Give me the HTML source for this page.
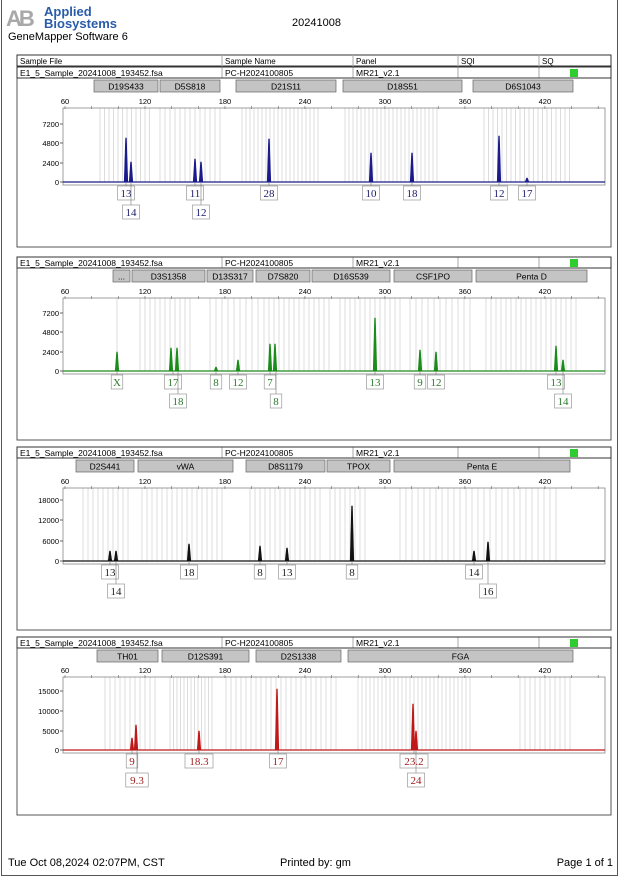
<!DOCTYPE html>
<html><head><meta charset="utf-8"><style>
body{margin:0;background:#fff;}
#pg{position:relative;width:620px;height:877px;overflow:hidden;font-family:"Liberation Sans",sans-serif;}
.t{position:absolute;white-space:nowrap;color:#000;}
</style></head><body><div id="pg">
<div style="position:absolute;left:1px;top:-2px;width:617px;height:878px;border:1px solid #555;box-sizing:border-box;border-top:none"></div>
<div class="t" style="left:6px;top:6px;font-size:22px;font-weight:bold;color:#a8a8a8;letter-spacing:-3px;">AB</div>
<div class="t" style="left:44px;top:6px;font-size:13px;font-weight:bold;color:#2a5caa;line-height:12px">Applied<br>Biosystems</div>
<div class="t" style="left:8px;top:31px;font-size:11px;">GeneMapper Software 6</div>
<div class="t" style="left:292px;top:17px;font-size:11px;">20241008</div>
<div class="t" style="left:8px;top:857px;font-size:11px;">Tue Oct 08,2024 02:07PM, CST</div>
<div class="t" style="left:280px;top:857px;font-size:11px;">Printed by: gm</div>
<div class="t" style="right:7px;top:857px;font-size:11px;">Page 1 of 1</div>
<svg id="s" width="620" height="877" style="position:absolute;left:0;top:0" font-family="Liberation Sans, sans-serif"></svg>
</div>
<script>
const s=document.getElementById('s');let h='';
const X=bp=>65+(bp-60)*1.333;
const panels=[
{top:55,hdr:true,bot:247,bins:[["D19S433",94,158],["D5S818",160,220],["D21S11",236,336],["D18S51",343,462],["D6S1043",473,573]],
 ax:101,pt:108,base:182,ticks:[["7200",124],["4800",143],["2400",163],["0",182]],col:"#1a1a8c",lab:"#1a1a6c",
 peaks:[[126,138],[131,162],[195,159],[201,162],[269,139],[371,153],[412,153],[499,136],[527,178]],
 labels:[["13",126,0],["14",131,1],["11",195,0],["12",201,1],["28",269,0],["10",371,0],["18",412,0],["12",499,0],["17",527,0]],
 lines:[[100,152,4.5],[160,220,5],[242,318,4],[345,440,4],[484,572,4.5]]},
{top:257,hdr:false,bot:440,bins:[["...",113,130],["D3S1358",132,205],["D13S317",207,253],["D7S820",256,310],["D16S539",312,390],["CSF1PO",394,472],["Penta D",476,587]],
 ax:291,pt:298,base:371,ticks:[["7200",313],["4800",332],["2400",352],["0",371]],col:"#1a8c1a",lab:"#2a7a2a",
 peaks:[[117,352],[171,348],[177,348],[216,367],[238,360],[270,344],[275,344],[375,318],[420,350],[436,352],[556,346],[563,360]],
 labels:[["X",117,0],["17",173,0],["18",178,1],["8",216,0],["12",238,0],["7",270,0],["8",276,1],["13",375,0],["9",420,0],["12",436,0],["13",556,0],["14",563,1]],
 lines:[[117,117,1],[140,190,5],[210,258,6],[264,330,5],[340,400,5],[410,470,6],[486,578,5]]},
{top:447,hdr:false,bot:630,bins:[["D2S441",76,134],["vWA",138,233],["D8S1179",246,325],["TPOX",327,390],["Penta E",394,570]],
 ax:481,pt:488,base:561,ticks:[["18000",500],["12000",520],["6000",541],["0",561]],col:"#111",lab:"#222",
 peaks:[[110,551],[116,551],[189,544],[260,546],[287,548],[352,506],[474,551],[488,542]],
 labels:[["13",110,0],["14",116,1],["18",189,0],["8",260,0],["13",287,0],["8",352,0],["14",474,0],["16",488,1]],
 lines:[[83,128,5],[142,225,5],[250,320,5],[330,368,5],[400,558,6]]},
{top:637,hdr:false,bot:815,bins:[["TH01",97,158],["D12S391",162,249],["D2S1338",256,341],["FGA",348,573]],
 ax:670,pt:677,base:750,ticks:[["15000",691],["10000",711],["5000",731],["0",750]],col:"#c01818",lab:"#a02020",
 peaks:[[132,738],[136,725],[199,731],[277,689],[413,704],[416,731]],
 labels:[["9",132,0],["9.3",137,1],["18.3",199,0],["17",278,0],["23.2",414,0],["24",416,1]],
 lines:[[105,158,5],[170,215,3.5],[226,340,5],[358,470,4],[520,570,5]]}];
for(const p of panels){
 let y0=p.top;
 h+=`<rect x="17" y="${y0}" width="594" height="${p.bot-y0}" fill="none" stroke="#555" stroke-width="1"/>`;
 if(p.hdr){
  h+=`<rect x="17" y="${y0}" width="594" height="11" fill="none" stroke="#333"/>`;
  [["Sample File",20],["Sample Name",225],["Panel",356],["SQI",461],["SQ",542]].forEach(a=>h+=`<text x="${a[1]}" y="${y0+9}" font-size="8">${a[0]}</text>`);
  [222,353,458,539].forEach(x=>h+=`<line x1="${x}" y1="${y0}" x2="${x}" y2="${y0+23}" stroke="#aaa"/>`);
  y0+=12;
 } else [222,353,458,539].forEach(x=>h+=`<line x1="${x}" y1="${y0}" x2="${x}" y2="${y0+11}" stroke="#aaa"/>`);
 h+=`<rect x="17" y="${y0}" width="594" height="11" fill="none" stroke="#333"/>`;
 h+=`<text x="20" y="${y0+9}" font-size="8.5">E1_5_Sample_20241008_193452.fsa</text><text x="225" y="${y0+9}" font-size="8.5">PC-H2024100805</text><text x="356" y="${y0+9}" font-size="8.5">MR21_v2.1</text>`;
 h+=`<rect x="570" y="${y0+2}" width="8" height="8" fill="#2ecc2e"/>`;
 const by=y0+13;
 for(const b of p.bins){h+=`<rect x="${b[1]}" y="${by}" width="${b[2]-b[1]}" height="12" fill="#c4c4c4" stroke="#666" stroke-width="0.7"/><text x="${(b[1]+b[2])/2}" y="${by+9.5}" font-size="8.5" text-anchor="middle">${b[0]}</text>`;}
 [60,120,180,240,300,360,420].forEach(v=>h+=`<text x="${X(v)}" y="${p.ax+3}" font-size="7.5" text-anchor="middle">${v}</text>`);
 for(const l of p.lines){for(let v=l[0];v<=l[1];v+=l[2])h+=`<line x1="${v}" y1="${p.pt}" x2="${v}" y2="${p.base}" stroke="#d4d4d4" stroke-width="0.8"/>`;}
 h+=`<rect x="63" y="${p.pt}" width="542" height="${p.base-p.pt+3}" fill="none" stroke="#888" stroke-width="0.8"/>`;
 for(let v=60;v<=460;v+=20)h+=`<line x1="${X(v)}" y1="${p.pt-2}" x2="${X(v)}" y2="${p.pt+1}" stroke="#666" stroke-width="0.6"/>`;
 for(const t of p.ticks)h+=`<text x="59" y="${t[1]+3}" font-size="7.5" text-anchor="end">${t[0]}</text><line x1="60" y1="${t[1]}" x2="63" y2="${t[1]}" stroke="#666"/>`;
 h+=`<line x1="63" y1="${p.base}" x2="605" y2="${p.base}" stroke="${p.col}" stroke-width="1.3"/>`;
 for(const k of p.peaks)h+=`<path d="M${k[0]-1.8} ${p.base} L${k[0]-0.4} ${k[1]} L${k[0]+0.4} ${k[1]} L${k[0]+1.8} ${p.base}Z" fill="${p.col}" stroke="${p.col}" stroke-width="0.6"/>`;
 for(const L of p.labels){const w=L[0].length*5.5+6;const ly=p.base+4+L[2]*19;
  h+=`<line x1="${L[1]}" y1="${p.base}" x2="${L[1]}" y2="${ly}" stroke="#777" stroke-width="0.6"/>`;
  h+=`<rect x="${L[1]-w/2}" y="${ly}" width="${w}" height="14" fill="#fff" stroke="#999" stroke-width="0.7"/><text x="${L[1]}" y="${ly+11}" font-size="11" font-family="Liberation Serif, serif" text-anchor="middle" fill="${p.lab}">${L[0]}</text>`;}
}
s.innerHTML=h;
</script></body></html>
